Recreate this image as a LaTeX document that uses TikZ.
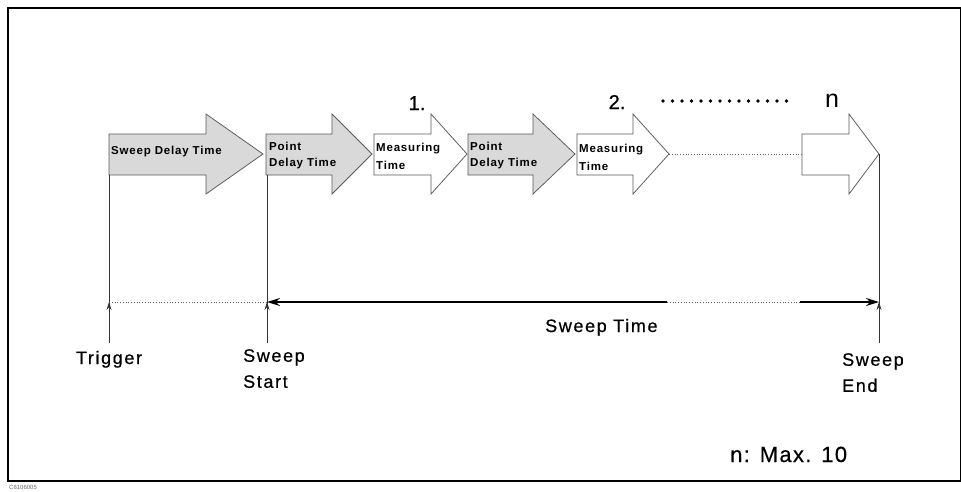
\documentclass[tikz,border=0pt]{standalone}
\usepackage{fontspec}
\setmainfont{Liberation Sans}
\newfontfamily\widefont[LetterSpace=9, FakeBold=0.6]{Liberation Sans}
\newfontfamily\boxfont[LetterSpace=7]{Liberation Sans}
\newfontfamily\notefont[LetterSpace=6, FakeBold=0.4]{Liberation Sans}
\newfontfamily\numfont[FakeBold=0.8]{Liberation Sans}
\usetikzlibrary{arrows.meta, positioning, calc}
\tikzset{
    delaybox/.style = {draw=black!65, fill=black!15, line width=0.75pt},
    measbox/.style = {draw=black!65, fill=white, line width=0.75pt},
    guide/.style = {draw=black!80, line width=0.75pt},
    marker/.style = {draw=black!80, line width=0.75pt, -{Stealth[length=8pt, width=5pt]}},
    span/.style = {line width=2pt},
    fine/.style = {dotted, draw=black!60, line width=0.75pt},
    inlabel/.style = {font=\boxfont\bfseries\fontsize{11.5}{16}\selectfont, align=left, inner sep=0pt},
    bigtext/.style = {font=\widefont\fontsize{18}{26}\selectfont, align=left, inner sep=0pt}
}
% style, tip name, left, head start, tip
\newcommand{\blockarrow}[5]{%
    \draw[#1] (#3,134) -- (#4,134) -- (#4,114) -- (#5,154) coordinate (#2) -- (#4,194) -- (#4,175) -- (#3,175) -- cycle;
}

\begin{document}
\begin{tikzpicture}[x=1pt, y=-1pt]

    % Frame
    \useasboundingbox (0,0) rectangle (961,491);
    \draw[line width=2pt] (8,8) rectangle (961,481);
    \node[anchor=west, inner sep=0pt, font=\fontsize{6}{7}\selectfont, text=black!60] (code) at (9,487) {C6106005};

    % Arrows of one sweep
    \blockarrow{delaybox}{tipA}{109}{206}{263}
    \blockarrow{delaybox}{tipB}{266}{332}{372}
    \blockarrow{measbox}{tipC}{374}{431}{467}
    \blockarrow{delaybox}{tipD}{468}{533}{575}
    \blockarrow{measbox}{tipE}{577}{633}{669}
    \blockarrow{measbox}{tipN}{802}{849}{879}
    \coordinate (startN) at (802,154);
    \draw[fine] (tipE) -- (startN);

    \node[inlabel, anchor=west] (sdt) at (111,152) {Sweep Delay Time};
    \node[inlabel, anchor=north west] (pdt1) at (269,142) {Point\\Delay Time};
    \node[inlabel, anchor=north west, font=\boxfont\bfseries\fontsize{11.5}{18}\selectfont] (mt1) at (376,143) {Measuring\\Time};
    \node[inlabel, anchor=north west] (pdt2) at (470,142) {Point\\Delay Time};
    \node[inlabel, anchor=north west, font=\boxfont\bfseries\fontsize{11.5}{18}\selectfont] (mt2) at (579,144) {Measuring\\Time};

    % Point numbers
    \node[anchor=base, inner sep=0pt, font=\numfont\fontsize{20}{24}\selectfont] (one) at (417,110) {1.};
    \node[anchor=base, inner sep=0pt, font=\numfont\fontsize{20}{24}\selectfont] (two) at (617,109) {2.};
    \node[anchor=base, inner sep=0pt, font=\fontsize{25}{28}\selectfont] (last) at (832,107) {n};
    \foreach \i in {0,...,13}
        \fill (663+\i*9.5,101) circle (1.8pt);

    % Time axis
    \coordinate (trig) at (109,302);
    \coordinate (start) at (267,302);
    \coordinate (end) at (879,302);
    \coordinate (gapL) at (667,302);
    \coordinate (gapR) at (800,302);
    \draw[guide] (109,175) -- (109,343);
    \draw[guide] (267,175) -- (267,343);
    \draw[guide] (tipN) -- (879,343);
    \draw[marker] (109,343) -- (trig);
    \draw[marker] (267,343) -- (start);
    \draw[marker] (879,343) -- (end);
    \draw[fine] (trig) -- (start);
    \draw[span, {Stealth[length=13pt, width=8pt]}-] (start) -- (gapL);
    \draw[fine] (gapL) -- (gapR);
    \draw[span, -{Stealth[length=13pt, width=8pt]}] (gapR) -- (end);

    % Labels
    \node[bigtext, anchor=base] (trigger) at (109,364) {Trigger};
    \node[bigtext, anchor=north west] (sstart) at (243,349) {Sweep\\Start};
    \node[bigtext, anchor=north west] (send) at (842,353) {Sweep\\End};
    \node[bigtext, anchor=base west] (stime) at (545,332) {Sweep Time};
    \node[anchor=base west, inner sep=0pt, font=\notefont\fontsize{22}{25}\selectfont] (maxn) at (730,462) {n: Max. 10};

\end{tikzpicture}
\end{document}
